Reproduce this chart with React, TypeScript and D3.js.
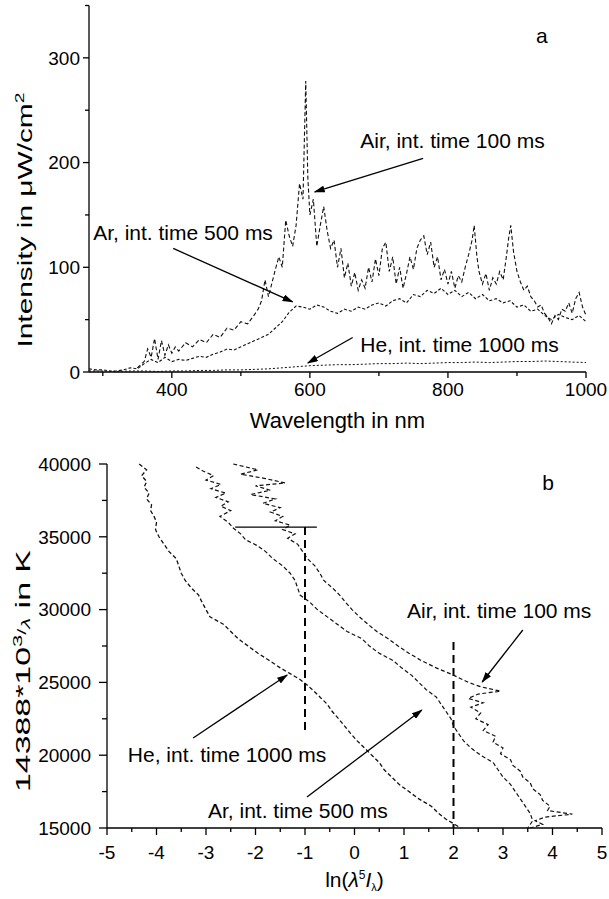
import React from "react";
import * as d3 from "d3";

// ---------- Panel a data (wavelength nm, intensity µW/cm²) ----------
const airWl = [350,360,365,370,375,380,385,390,395,400,405,410,420,430,440,450,460,470,480,490,500,510,520,525,530,535,540,545,550,555,560,565,570,575,580,585,590,594,597,600,605,610,615,620,625,630,635,640,645,650,655,660,665,670,675,680,685,690,695,700,705,710,715,720,725,730,735,740,745,750,755,760,765,770,775,780,785,790,795,800,805,810,815,820,825,830,835,838,842,845,850,855,860,865,870,875,880,885,888,891,895,900,905,910,915,920,925,930,935,940,945,950,955,960,965,970,975,980,985,990,995,1000];
const airInt = [4,10,22,14,32,12,30,16,26,18,24,20,28,24,31,28,36,33,42,40,48,46,55,60,68,88,72,85,98,110,100,145,130,120,140,180,165,278,186,150,165,120,140,158,135,118,126,100,118,90,104,82,95,78,88,80,100,86,108,92,118,124,96,110,84,100,80,94,110,98,118,126,130,112,124,100,110,88,98,84,96,80,92,86,100,112,126,140,110,96,84,94,78,90,84,96,88,112,128,140,115,96,86,78,82,72,68,62,64,56,52,46,54,50,60,58,66,56,70,76,62,54];

const arWl = [280,290,300,310,320,330,340,350,360,370,380,390,400,410,420,430,440,450,460,470,480,490,500,510,520,530,540,550,560,570,580,590,600,610,620,630,640,650,660,670,680,690,700,710,720,730,740,750,760,770,780,790,800,810,820,830,840,850,860,870,880,890,900,910,920,930,940,950,960,970,980,990,1000];
const arInt = [3,2,2,1,1,2,4,3,8,12,9,14,10,12,11,13,15,14,17,19,22,21,24,27,30,33,36,42,48,57,63,62,60,64,62,58,56,60,58,62,60,64,66,63,68,70,66,74,72,78,75,80,74,78,72,76,70,74,68,70,66,68,62,64,58,60,54,50,55,52,50,54,48];

const heWl = [280,300,320,340,360,380,400,420,440,460,480,500,520,540,560,580,600,620,640,660,680,700,720,740,760,780,800,820,840,860,880,900,920,940,960,980,1000];
const heInt = [1,1,0.5,1,1,0.5,1,1,1.5,1.5,2,2,2.5,3,4,5,6,6.5,7,7,7.5,8,8,8.5,8,8.5,9,9,9.5,9,9.5,10,10,10.5,10,9.5,9];

// ---------- Panel b data (14388e3/λ in K, ln(λ^5 I)) ----------
const airBT = [40000,39800,39600,39300,39000,38700,38500,38200,37900,37600,37300,37000,36700,36400,36100,35800,35500,35200,34900,34500,34000,33500,33000,32500,32000,31500,31000,30500,30000,29500,29000,28500,28000,27500,27000,26500,26000,25500,25000,24700,24400,24200,23900,23600,23300,22900,22500,22100,21700,21300,20900,20500,20100,19700,19300,18900,18500,18100,17700,17300,16900,16500,16200,15950,15750,15500,15250,15000];
const airBV = [-2.45,-2.2,-1.95,-2.3,-1.8,-1.4,-2.0,-1.7,-2.1,-1.6,-1.85,-1.5,-1.7,-1.45,-1.6,-1.3,-1.45,-1.2,-1.35,-1.15,-1.05,-0.95,-0.8,-0.7,-0.62,-0.45,-0.3,-0.18,-0.05,0.1,0.27,0.45,0.68,0.88,1.1,1.35,1.65,2.0,2.3,2.55,2.95,2.5,2.3,2.6,2.35,2.55,2.45,2.7,2.6,2.85,2.8,3.0,2.95,3.15,3.2,3.35,3.4,3.55,3.6,3.75,3.8,3.95,3.9,4.4,3.85,3.65,3.8,3.55];

const arBT = [39800,39500,39200,38900,38600,38300,38000,37700,37400,37100,36800,36400,36000,35600,35200,34800,34400,34000,33500,33000,32500,32000,31500,31000,30500,30000,29500,29000,28500,28000,27500,27000,26500,26000,25500,25000,24500,24000,23500,23000,22500,22000,21500,21000,20500,20000,19500,19000,18500,18000,17500,17000,16500,16000,15500,15000];
const arBV = [-3.2,-3.05,-2.85,-3.0,-2.7,-2.9,-2.6,-2.8,-2.55,-2.7,-2.5,-2.72,-2.55,-2.45,-2.3,-2.2,-1.97,-1.8,-1.65,-1.45,-1.3,-1.2,-1.15,-1.1,-0.9,-0.75,-0.55,-0.35,-0.15,0.15,0.3,0.5,0.78,0.95,1.15,1.3,1.45,1.65,1.75,1.85,1.95,2.0,2.1,2.2,2.35,2.55,2.8,2.9,3.0,3.15,3.25,3.35,3.45,3.55,3.6,3.5];

const heBT = [40000,39600,39200,38800,38400,38000,37600,37200,36800,36400,36000,35500,35000,34500,34000,33500,33000,32500,32000,31500,31000,30500,30000,29500,29000,28500,28000,27500,27000,26500,26000,25600,25200,24800,24400,24000,23500,23000,22500,22000,21500,21000,20500,20000,19500,19000,18500,18000,17500,17000,16500,16000,15600,15300,15000];
const heBV = [-4.35,-4.2,-4.3,-4.2,-4.25,-4.15,-4.2,-4.1,-4.12,-4.05,-4.0,-4.02,-3.95,-3.85,-3.75,-3.6,-3.55,-3.5,-3.42,-3.3,-3.15,-3.08,-3.0,-2.92,-2.65,-2.5,-2.35,-2.15,-1.95,-1.72,-1.5,-1.3,-1.1,-0.95,-0.82,-0.7,-0.55,-0.45,-0.32,-0.2,-0.08,0.05,0.2,0.35,0.5,0.6,0.75,0.9,1.1,1.3,1.55,1.7,1.85,2.0,2.15];

// ticks
const topXMajor = [400, 600, 800, 1000];
const topXMinor = [300, 500, 700, 900];
const topYMajor = [0, 100, 200, 300];
const topYMinor = [50, 150, 250, 350];
const botXMajor = [-5, -4, -3, -2, -1, 0, 1, 2, 3, 4, 5];
const botXMinor = [-4.5, -3.5, -2.5, -1.5, -0.5, 0.5, 1.5, 2.5, 3.5, 4.5];
const botYMajor = [15000, 20000, 25000, 30000, 35000, 40000];
const botYMinor = [17500, 22500, 27500, 32500, 37500];

// annotation anchors in data coordinates
const topNotes = [
  { text: "Air, int. time 100 ms", x: 673, y: 214, from: [764, 204], to: [607, 172] },
  { text: "Ar, int. time 500 ms", x: 286, y: 126, from: [402, 118], to: [575, 67] },
  { text: "He, int. time 1000 ms", x: 673, y: 19, from: [662, 33], to: [597, 8.6] },
];
const botNotes = [
  { text: "Air, int. time 100 ms", x: 1.06, y: 29423, from: [3.4, 28599], to: [2.58, 25027] },
  { text: "He, int. time 1000 ms", x: -4.58, y: 19533, from: [-3.26, 21181], to: [-1.36, 25508] },
  { text: "Ar, int. time 500 ms", x: -2.96, y: 15687, from: [-0.96, 17129], to: [1.36, 23104] },
];
const botDashed = [
  { v: -1, t0: 35670, t1: 21600 },
  { v: 2, t0: 27775, t1: 15000 },
];
const botCap = { v0: -2.41, v1: -0.76, t: 35670 };

const FONT = "'Liberation Sans', Arial, Helvetica, sans-serif";

export default function App() {
  const xT = d3.scaleLinear().domain([280, 1000]).range([89, 586]);
  const yT = d3.scaleLinear().domain([0, 350]).range([372, 5.5]);
  const xB = d3.scaleLinear().domain([-5, 5]).range([107, 602]);
  const yB = d3.scaleLinear().domain([15000, 40000]).range([828, 464]);

  const lineT = (xs: number[], ys: number[]) =>
    d3.line<number>().x((_, i) => xT(xs[i])).y((_, i) => yT(ys[i]))(xs) || "";
  const lineB = (ts: number[], vs: number[]) =>
    d3.line<number>().x((_, i) => xB(vs[i])).y((_, i) => yB(ts[i]))(ts) || "";

  const axisStroke = { stroke: "#000", strokeWidth: 1.3 };

  return (
    <svg width={609} height={899} style={{ position: "absolute", left: 0, top: 0, background: "#fff" }} fontFamily={FONT}>
      <defs>
        <marker id="ah" markerUnits="userSpaceOnUse" markerWidth={11} markerHeight={7} refX={10} refY={3.5} orient="auto">
          <path d="M0,0 L11,3.5 L0,7 z" fill="#000" />
        </marker>
      </defs>
      <rect x={0} y={0} width={609} height={899} fill="#fff" />

      {/* ===== Panel a ===== */}
      <line x1={xT(280)} x2={xT(1000)} y1={yT(0)} y2={yT(0)} {...axisStroke} />
      <line x1={xT(280)} x2={xT(280)} y1={yT(0)} y2={yT(350)} {...axisStroke} />
      {topXMajor.map((v) => (
        <g key={"txm" + v}>
          <line x1={xT(v)} x2={xT(v)} y1={yT(0)} y2={yT(0) + 6} {...axisStroke} />
          <text x={xT(v)} y={396} fontSize={19} textAnchor="middle">{v}</text>
        </g>
      ))}
      {topXMinor.map((v) => (
        <line key={"txn" + v} x1={xT(v)} x2={xT(v)} y1={yT(0)} y2={yT(0) + 4} {...axisStroke} />
      ))}
      {topYMajor.map((v) => (
        <g key={"tym" + v}>
          <line x1={xT(280) - 6} x2={xT(280)} y1={yT(v)} y2={yT(v)} {...axisStroke} />
          <text x={xT(280) - 9} y={yT(v)} dy="0.36em" fontSize={19} textAnchor="end">{v}</text>
        </g>
      ))}
      {topYMinor.map((v) => (
        <line key={"tyn" + v} x1={xT(280) - 4} x2={xT(280)} y1={yT(v)} y2={yT(v)} {...axisStroke} />
      ))}
      <text x={(xT(280) + xT(1000)) / 2} y={428} fontSize={22} textAnchor="middle">Wavelength in nm</text>
      <text transform="translate(32,220) rotate(-90)" fontSize={20} textAnchor="middle" textLength={255} lengthAdjust="spacingAndGlyphs">
        Intensity in μW/cm<tspan dy={-8} fontSize={13}>2</tspan>
      </text>
      <text x={xT(936)} y={yT(314)} fontSize={21} textAnchor="middle">a</text>

      <path d={lineT(heWl, heInt)} fill="none" stroke="#111" strokeWidth={1} strokeDasharray="2 2" />
      <path d={lineT(arWl, arInt)} fill="none" stroke="#111" strokeWidth={1.1} strokeDasharray="3 2" />
      <path d={lineT(airWl, airInt)} fill="none" stroke="#111" strokeWidth={1.1} strokeDasharray="4 2.5" />

      {topNotes.map((n) => (
        <g key={n.text}>
          <text x={xT(n.x)} y={yT(n.y)} fontSize={21}>{n.text}</text>
          <line x1={xT(n.from[0])} y1={yT(n.from[1])} x2={xT(n.to[0])} y2={yT(n.to[1])} stroke="#000" strokeWidth={1.3} markerEnd="url(#ah)" />
        </g>
      ))}

      {/* ===== Panel b ===== */}
      <line x1={xB(-5)} x2={xB(5)} y1={yB(15000)} y2={yB(15000)} {...axisStroke} />
      <line x1={xB(-5)} x2={xB(-5)} y1={yB(15000)} y2={yB(40000)} {...axisStroke} />
      {botXMajor.map((v) => (
        <g key={"bxm" + v}>
          <line x1={xB(v)} x2={xB(v)} y1={yB(15000)} y2={yB(15000) + 7} {...axisStroke} />
          <text x={xB(v)} y={859} fontSize={19} textAnchor="middle">{v}</text>
        </g>
      ))}
      {botXMinor.map((v) => (
        <line key={"bxn" + v} x1={xB(v)} x2={xB(v)} y1={yB(15000)} y2={yB(15000) + 4} {...axisStroke} />
      ))}
      {botYMajor.map((v) => (
        <g key={"bym" + v}>
          <line x1={xB(-5) - 8} x2={xB(-5)} y1={yB(v)} y2={yB(v)} {...axisStroke} />
          <text x={xB(-5) - 16} y={yB(v)} dy="0.36em" fontSize={19} textAnchor="end">{v}</text>
        </g>
      ))}
      {botYMinor.map((v) => (
        <line key={"byn" + v} x1={xB(-5) - 5} x2={xB(-5)} y1={yB(v)} y2={yB(v)} {...axisStroke} />
      ))}
      <text x={(xB(-5) + xB(5)) / 2} y={887} fontSize={21} textAnchor="middle">
        ln(<tspan fontStyle="italic">λ</tspan><tspan dy={-8} fontSize={12}>5</tspan><tspan dy={8} fontStyle="italic">I</tspan><tspan dy={4} fontSize={11}>λ</tspan><tspan dy={-4}>)</tspan>
      </text>
      <text transform="translate(30,671) rotate(-90)" fontSize={20} textAnchor="middle" textLength={242} lengthAdjust="spacingAndGlyphs">
        14388*10<tspan dy={-8} fontSize={13}>3</tspan><tspan dy={4} fontSize={13}>/</tspan><tspan dy={4} fontSize={13} fontStyle="italic">λ</tspan> in K
      </text>
      <text x={xB(3.91)} y={yB(38214)} fontSize={21} textAnchor="middle">b</text>

      {botDashed.map((d) => (
        <line key={"bd" + d.v} x1={xB(d.v)} x2={xB(d.v)} y1={yB(d.t0)} y2={yB(d.t1)} stroke="#000" strokeWidth={2} strokeDasharray="8 5" />
      ))}
      <line x1={xB(botCap.v0)} x2={xB(botCap.v1)} y1={yB(botCap.t)} y2={yB(botCap.t)} stroke="#000" strokeWidth={1.3} />

      <path d={lineB(heBT, heBV)} fill="none" stroke="#111" strokeWidth={1.3} strokeDasharray="4 2.5" />
      <path d={lineB(arBT, arBV)} fill="none" stroke="#111" strokeWidth={1.2} strokeDasharray="4 2.5" />
      <path d={lineB(airBT, airBV)} fill="none" stroke="#111" strokeWidth={1.2} strokeDasharray="4 2.5" />

      {botNotes.map((n) => (
        <g key={"b" + n.text}>
          <text x={xB(n.x)} y={yB(n.y)} fontSize={21}>{n.text}</text>
          <line x1={xB(n.from[0])} y1={yB(n.from[1])} x2={xB(n.to[0])} y2={yB(n.to[1])} stroke="#000" strokeWidth={1.3} markerEnd="url(#ah)" />
        </g>
      ))}
    </svg>
  );
}
